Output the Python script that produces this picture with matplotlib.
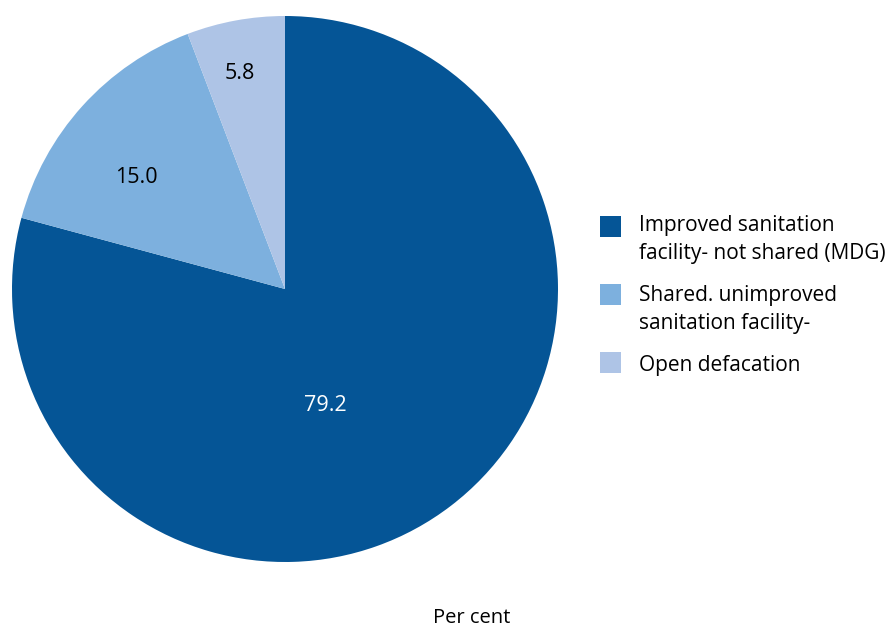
import matplotlib.pyplot as plt
from matplotlib.patches import Rectangle

plt.rcParams['font.family'] = ['Open Sans', 'DejaVu Sans']

categories = ['Improved sanitation\nfacility- not shared (MDG)',
              'Shared. unimproved\nsanitation facility-',
              'Open defacation']
values = [79.2, 15.0, 5.8]
colors = ['#055596', '#7db0de', '#aec4e6']
label_colors = ['white', 'black', 'black']
# where each value label sits inside its wedge (pie radius = 1)
label_pos = [(0.147, -0.425), (-0.546, 0.407), (-0.165, 0.79)]

W, H = 889, 630
fig = plt.figure(figsize=(W / 100, H / 100), dpi=100)
ax = fig.add_axes([12 / W, 68 / H, 546 / W, 546 / H])

wedges, _ = ax.pie(values, colors=colors, startangle=90, counterclock=False,
                   radius=1, wedgeprops=dict(linewidth=0))
ax.set_xlim(-1, 1)
ax.set_ylim(-1, 1)
ax.set_aspect('equal')

for v, (x, y), c in zip(values, label_pos, label_colors):
    ax.text(x, y, f'{v:.1f}', ha='center', va='center', fontsize=15.5, color=c)

# legend drawn by hand: square + wrapped text, first line level with the square
sq = 21
for i, (name, c) in enumerate(zip(categories, colors)):
    top = 216 + i * 68
    fig.add_artist(Rectangle((600 / W, 1 - (top + sq) / H), sq / W, sq / H,
                             transform=fig.transFigure, facecolor=c, edgecolor='none'))
    fig.text(639 / W, 1 - (215 + i * 70) / H, name, ha='left', va='top',
             fontsize=15, linespacing=1.45)

fig.text(472 / W, 1 - 618 / H, 'Per cent', ha='center', va='center', fontsize=14.5)

plt.savefig('out.png', dpi=100)
